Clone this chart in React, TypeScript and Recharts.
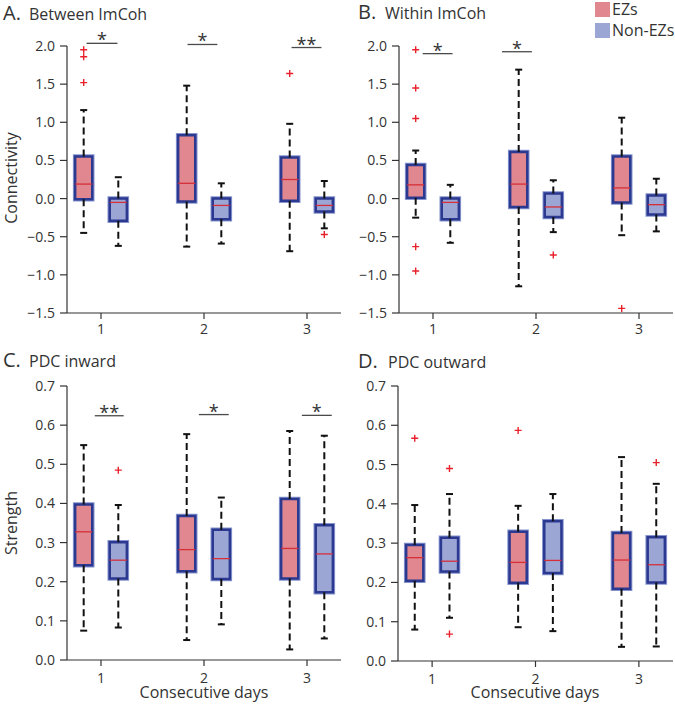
import { ComposedChart, XAxis, YAxis, ReferenceArea, ReferenceLine, ReferenceDot, Scatter } from 'recharts';

const FONT = '"Open Sans", "DejaVu Sans", sans-serif';

const COLORS = {
    ez: '#E0878F',
    nonEz: '#9CA6D5',
    border: '#2B3990',
    halo: '#8593CE',
    median: '#D52F3A',
    outlier: '#E8212B',
    whisker: '#111111',
    axis: '#333333',
    text: '#333333',
    sig: '#4A4A4A',
};

const days = [1, 2, 3];
const connTicks = [-1.5, -1, -0.5, 0, 0.5, 1, 1.5, 2];
const strengthTicks = [0, 0.1, 0.2, 0.3, 0.4, 0.5, 0.6, 0.7];

// each row: [lower whisker, q1, median, q3, upper whisker] for day 1..3
const betweenEz = [[-0.45, -0.01, 0.19, 0.55, 1.16], [-0.63, -0.04, 0.2, 0.83, 1.48], [-0.69, -0.03, 0.25, 0.54, 0.98]];
const betweenNonEz = [[-0.62, -0.29, -0.05, 0.0, 0.28], [-0.59, -0.27, -0.09, 0.0, 0.2], [-0.39, -0.17, -0.09, 0.0, 0.23]];
const betweenEzOut = [[1.95, 1.86, 1.52], [], [1.64]];
const betweenNonEzOut = [[], [], [-0.47]];
const betweenSig = [
    { from: 0.86, to: 1.16, y: 2.035, text: '*' },
    { from: 1.84, to: 2.13, y: 2.02, text: '*' },
    { from: 2.85, to: 3.14, y: 1.98, text: '**' },
];

const withinEz = [[-0.25, 0.01, 0.18, 0.44, 0.63], [-1.15, -0.11, 0.19, 0.61, 1.69], [-0.48, -0.05, 0.14, 0.55, 1.06]];
const withinNonEz = [[-0.58, -0.27, -0.05, 0.0, 0.18], [-0.44, -0.24, -0.11, 0.065, 0.24], [-0.43, -0.21, -0.08, 0.04, 0.26]];
const withinEzOut = [[1.95, 1.45, 1.05, -0.63, -0.95], [], [-1.44]];
const withinNonEzOut = [[], [-0.74], []];
const withinSig = [
    { from: 0.9, to: 1.19, y: 1.9, text: '*' },
    { from: 1.67, to: 1.96, y: 1.925, text: '*' },
];

const inwardEz = [[0.075, 0.242, 0.3275, 0.397, 0.549], [0.051, 0.227, 0.282, 0.368, 0.577], [0.027, 0.208, 0.285, 0.411, 0.585]];
const inwardNonEz = [[0.083, 0.208, 0.255, 0.301, 0.396], [0.091, 0.207, 0.259, 0.333, 0.415], [0.055, 0.173, 0.271, 0.344, 0.573]];
const inwardEzOut = [[], [], []];
const inwardNonEzOut = [[0.485], [], []];
const inwardSig = [
    { from: 0.94, to: 1.22, y: 0.624, text: '**' },
    { from: 1.95, to: 2.24, y: 0.627, text: '*' },
    { from: 2.95, to: 3.24, y: 0.625, text: '*' },
];

const outwardEz = [[0.08, 0.204, 0.263, 0.295, 0.397], [0.086, 0.199, 0.251, 0.329, 0.395], [0.036, 0.184, 0.257, 0.326, 0.519]];
const outwardNonEz = [[0.11, 0.228, 0.254, 0.314, 0.425], [0.076, 0.224, 0.256, 0.356, 0.425], [0.037, 0.2, 0.245, 0.315, 0.451]];
const outwardEzOut = [[0.567], [0.587], []];
const outwardNonEzOut = [[0.49, 0.0685], [], [0.505]];
const outwardSig: { from: number; to: number; y: number; text: string }[] = [];

const OFFSET = 0.168;
const HALF = 0.083;
const CAP = 0.034;

const fmt = (v: number) => (v < 0 ? '\u2212' : '') + Math.abs(v).toFixed(1);

const Plus = (p: any) => (
    <path d={`M${p.cx - 3.5},${p.cy}h7M${p.cx},${p.cy - 3.5}v7`} stroke={COLORS.outlier} strokeWidth={1.4} fill="none" />
);

interface PanelProps {
    left: number;
    top: number;
    width: number;
    height: number;
    yDomain: [number, number];
    yTicks: number[];
    ez: number[][];
    nonEz: number[][];
    ezOut: number[][];
    nonEzOut: number[][];
    sig: { from: number; to: number; y: number; text: string }[];
    labelGap: number;
}

function BoxPanel({ left, top, width, height, yDomain, yTicks, ez, nonEz, ezOut, nonEzOut, sig, labelGap }: PanelProps) {
    const parts: any[] = [];
    const groups: [number[][], number, string, string][] = [
        [ez, -OFFSET, COLORS.ez, 'ez'],
        [nonEz, OFFSET, COLORS.nonEz, 'ne'],
    ];
    groups.forEach(([stats, off, fill, name]) => {
        stats.forEach((s, i) => {
            const c = days[i] + off;
            const [lo, q1, med, q3, hi] = s;
            const k = `${name}-${i}`;
            parts.push(
                <ReferenceLine key={`wu-${k}`} segment={[{ x: c, y: q3 }, { x: c, y: hi }]} stroke={COLORS.whisker} strokeWidth={2} strokeDasharray="7 4" ifOverflow="visible" />,
                <ReferenceLine key={`wl-${k}`} segment={[{ x: c, y: q1 }, { x: c, y: lo }]} stroke={COLORS.whisker} strokeWidth={2} strokeDasharray="7 4" ifOverflow="visible" />,
                <ReferenceLine key={`cu-${k}`} segment={[{ x: c - CAP, y: hi }, { x: c + CAP, y: hi }]} stroke={COLORS.whisker} strokeWidth={2} ifOverflow="visible" />,
                <ReferenceLine key={`cl-${k}`} segment={[{ x: c - CAP, y: lo }, { x: c + CAP, y: lo }]} stroke={COLORS.whisker} strokeWidth={2} ifOverflow="visible" />,
                <ReferenceArea key={`h-${k}`} x1={c - HALF} x2={c + HALF} y1={q1} y2={q3} fill="none" stroke={COLORS.halo} strokeWidth={4.5} ifOverflow="visible" />,
                <ReferenceArea key={`b-${k}`} x1={c - HALF} x2={c + HALF} y1={q1} y2={q3} fill={fill} fillOpacity={1} stroke={COLORS.border} strokeWidth={2.5} ifOverflow="visible" />,
                <ReferenceLine key={`m-${k}`} segment={[{ x: c - HALF, y: med }, { x: c + HALF, y: med }]} stroke={COLORS.median} strokeWidth={1.3} ifOverflow="visible" />,
            );
        });
    });
    sig.forEach((b, i) => {
        parts.push(
            <ReferenceLine key={`s-${i}`} segment={[{ x: b.from, y: b.y }, { x: b.to, y: b.y }]} stroke={COLORS.sig} strokeWidth={1.3} ifOverflow="visible" />,
            <ReferenceDot
                key={`st-${i}`}
                x={(b.from + b.to) / 2}
                y={b.y}
                r={0}
                ifOverflow="visible"
                shape={(p: any) => (
                    <text x={p.cx} y={p.cy + 3} textAnchor="middle" fontSize={18} fontFamily={FONT} fill={COLORS.text}>{b.text}</text>
                )}
            />,
        );
    });

    const outliers = [
        ...ezOut.flatMap((vals, i) => vals.map((v) => ({ x: days[i] - OFFSET, y: v }))),
        ...nonEzOut.flatMap((vals, i) => vals.map((v) => ({ x: days[i] + OFFSET, y: v }))),
    ];

    return (
        <div style={{ position: 'absolute', left, top }}>
            <ComposedChart width={width} height={height} margin={{ top: 46, right: 0, bottom: 0, left: 0 }}>
                <XAxis
                    dataKey="x"
                    type="number"
                    domain={[0.67, 3.33]}
                    ticks={days}
                    interval={0}
                    height={40}
                    tickSize={6}
                    tickMargin={labelGap}
                    axisLine={{ stroke: COLORS.axis, strokeWidth: 1.2 }}
                    tickLine={{ stroke: COLORS.axis, strokeWidth: 1.2 }}
                    tick={{ fill: COLORS.text, fontSize: 14, fontFamily: FONT }}
                    allowDataOverflow
                />
                <YAxis
                    type="number"
                    domain={yDomain}
                    ticks={yTicks}
                    interval={0}
                    width={67}
                    tickSize={7}
                    tickMargin={5}
                    tickFormatter={fmt}
                    axisLine={{ stroke: COLORS.axis, strokeWidth: 1.2 }}
                    tickLine={{ stroke: COLORS.axis, strokeWidth: 1.2 }}
                    tick={{ fill: COLORS.text, fontSize: 14, fontFamily: FONT }}
                    allowDataOverflow
                />
                {parts}
                <Scatter data={outliers} dataKey="y" shape={Plus} isAnimationActive={false} />
            </ComposedChart>
        </div>
    );
}

export default function App() {
    return (
        <div style={{ position: 'absolute', left: 0, top: 0, width: 675, height: 707, background: '#fff', fontFamily: FONT }}>
            <BoxPanel left={0} top={0} width={341} height={353} yDomain={[-1.5, 2]} yTicks={connTicks}
                ez={betweenEz} nonEz={betweenNonEz} ezOut={betweenEzOut} nonEzOut={betweenNonEzOut} sig={betweenSig} labelGap={5} />
            <BoxPanel left={332} top={0} width={341} height={353} yDomain={[-1.5, 2]} yTicks={connTicks}
                ez={withinEz} nonEz={withinNonEz} ezOut={withinEzOut} nonEzOut={withinNonEzOut} sig={withinSig} labelGap={5} />
            <BoxPanel left={0} top={340} width={341} height={360} yDomain={[0, 0.7]} yTicks={strengthTicks}
                ez={inwardEz} nonEz={inwardNonEz} ezOut={inwardEzOut} nonEzOut={inwardNonEzOut} sig={inwardSig} labelGap={7} />
            <BoxPanel left={331} top={340} width={342} height={361} yDomain={[0, 0.7]} yTicks={strengthTicks}
                ez={outwardEz} nonEz={outwardNonEz} ezOut={outwardEzOut} nonEzOut={outwardNonEzOut} sig={outwardSig} labelGap={7} />
            <svg width={675} height={707} style={{ position: 'absolute', left: 0, top: 0, pointerEvents: 'none' }}>
                <g fontFamily={FONT} fill={COLORS.text}>
                    <text x={3} y={20} fontSize={20}>A.</text>
                    <text x={29} y={20} fontSize={16}>Between ImCoh</text>
                    <text x={358} y={18.5} fontSize={20}>B.</text>
                    <text x={385} y={18.5} fontSize={16}>Within ImCoh</text>
                    <text x={3} y={367} fontSize={20}>C.</text>
                    <text x={29} y={367} fontSize={16}>PDC inward</text>
                    <text x={358} y={368} fontSize={20}>D.</text>
                    <text x={388} y={368} fontSize={16}>PDC outward</text>
                    <text transform="translate(17,178) rotate(-90)" textAnchor="middle" fontSize={16}>Connectivity</text>
                    <text transform="translate(17,523) rotate(-90)" textAnchor="middle" fontSize={16}>Strength</text>
                    <text x={204} y={698} textAnchor="middle" fontSize={16}>Consecutive days</text>
                    <text x={535} y={698} textAnchor="middle" fontSize={16}>Consecutive days</text>
                    <rect x={595} y={2} width={15} height={15} fill={COLORS.ez} />
                    <text x={612} y={15} fontSize={16}>EZs</text>
                    <rect x={595} y={23} width={15} height={15} fill={COLORS.nonEz} />
                    <text x={612} y={36} fontSize={16}>Non-EZs</text>
                </g>
            </svg>
        </div>
    );
}
